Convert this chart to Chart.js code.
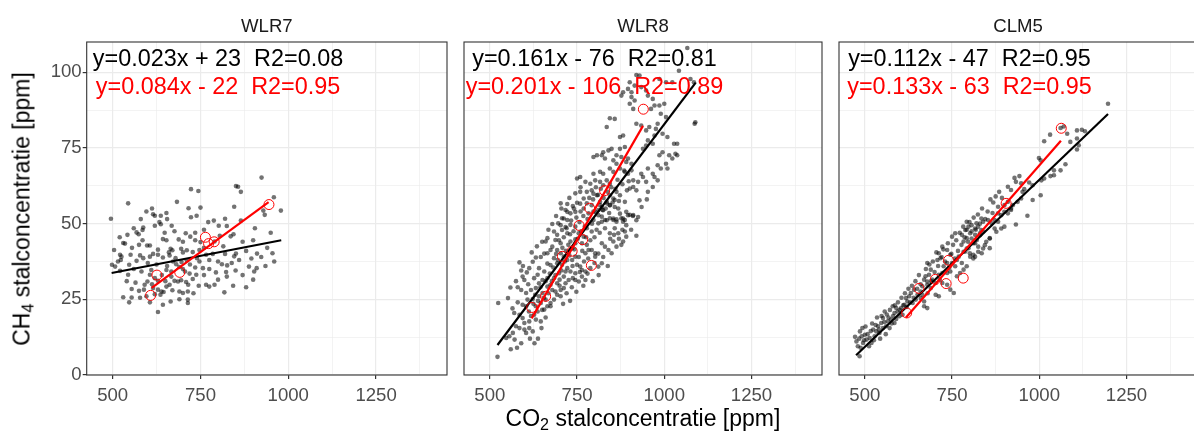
<!DOCTYPE html>
<html>
<head>
<meta charset="utf-8">
<script src="https://cdn.jsdelivr.net/npm/chart.js@4.4.0/dist/chart.umd.min.js"></script>
<style>
html, body { margin: 0; padding: 0; overflow: hidden; background: #fff; }
body { width: 1194px; height: 432px; position: relative; font-family: "Liberation Sans", Arial, sans-serif; }
.panel { position: absolute; top: 0; height: 432px; overflow: hidden; }
.panel canvas { display: block; }
#xtitle { position: absolute; left: 461.7px; width: 362.6px; top: 405px; text-align: center; font-size: 23px; color: #000; white-space: nowrap; }
#ytitle { position: absolute; left: 22px; top: 208.5px; transform: translate(-50%, -50%) rotate(-90deg); font-size: 23px; color: #000; white-space: nowrap; }
sub { font-size: 70%; vertical-align: -0.25em; line-height: 0; }
</style>
</head>
<body>
<div class="panel" style="left:0px;width:453px"><canvas id="c1" width="453" height="432"></canvas></div>
<div class="panel" style="left:458px;width:370px"><canvas id="c2" width="370" height="432"></canvas></div>
<div class="panel" style="left:833px;width:361px"><canvas id="c3" width="370" height="432"></canvas></div>
<div id="ytitle">CH<sub>4</sub> stalconcentratie [ppm]</div>
<div id="xtitle">CO<sub>2</sub> stalconcentratie [ppm]</div>
<script>
// axis setup
const xTicks = [500, 625, 750, 875, 1000, 1125, 1250, 1375];
const xMajor = [500, 750, 1000, 1250];
const yTicks = [0, 12.5, 25, 37.5, 50, 62.5, 75, 87.5, 100];
const yMajor = [0, 25, 50, 75, 100];

// facet labels and fit equations
const panelNames = ['WLR7', 'WLR8', 'CLM5'];
const blackEq = ['y=0.023x + 23  R2=0.08', 'y=0.161x - 76  R2=0.81', 'y=0.112x - 47  R2=0.95'];
const redEq = ['y=0.084x - 22  R2=0.95', 'y=0.201x - 106  R2=0.89', 'y=0.133x - 63  R2=0.95'];

// WLR7
const wlr7Points = [
  [924,65.2],[851,62.4],[857,62.2],[865,60.5],[723,61.4],[744,60.8],[544,56.7],[683,57.2],[959,58.7],[846,55.6],
  [716,55.1],[750,55.3],[979,54.3],[929,54.3],[933,52.9],[596,54.0],[615,53.1],[620,52.6],[653,53.5],[637,52.6],
  [495,51.6],[723,52.1],[739,52.6],[788,51.0],[820,51.6],[825,49.2],[865,51.0],[905,48.5],[802,49.3],[844,46.5],
  [836,45.8],[587,48.7],[585,47.9],[568,47.1],[574,46.5],[542,46.3],[620,49.3],[637,49.8],[655,51.5],[668,49.3],
  [643,44.9],[653,44.5],[688,44.8],[708,46.8],[721,45.7],[530,43.6],[535,43.4],[504,41.3],[575,43.0],[598,42.8],
  [606,42.8],[629,41.4],[665,41.7],[670,41.2],[695,41.7],[711,41.2],[728,40.6],[747,41.3],[750,43.9],[790,44.1],
  [846,39.2],[851,40.1],[911,40.1],[923,39.0],[955,40.2],[521,39.7],[525,39.1],[551,39.7],[498,36.4],[507,35.8],
  [523,38.0],[547,36.4],[568,37.7],[587,38.6],[606,39.1],[629,39.7],[643,38.8],[662,39.5],[679,38.6],[696,37.3],
  [711,37.9],[740,38.6],[747,37.5],[766,39.7],[775,38.0],[757,35.3],[775,35.0],[794,33.9],[811,36.6],[826,36.2],
  [839,37.0],[823,34.0],[825,32.5],[888,35.8],[903,34.2],[910,35.3],[681,36.6],[690,35.7],[653,34.7],[667,34.2],
  [706,34.2],[719,33.5],[738,33.1],[728,31.7],[766,29.8],[775,29.2],[790,29.8],[818,27.3],[676,31.1],[686,30.9],
  [695,31.3],[709,30.7],[715,29.8],[662,29.8],[653,29.2],[690,27.6],[700,27.1],[714,27.6],[714,24.9],[714,23.8],
  [665,24.3],[643,23.2],[629,20.8],[606,24.0],[554,28.4],[554,25.6],[547,24.0],[530,25.7],[575,27.8],[589,28.2],
  [615,28.7],[629,28.2],[639,27.6],[620,26.7],[636,26.5],[645,27.4],[591,29.8],[599,30.9],[620,32.0],[629,31.1],
  [544,33.1],[521,34.4],[606,33.1],[582,34.2],[667,32.5],[610,34.7],
  [560,48.5],[580,51.5],[612,55.0],[633,50.5],[648,47.0],[676,47.5],[700,44.0],[735,47.0],[760,48.0],[772,50.5],
  [805,46.0],[815,42.5],[870,44.0],[880,41.0],[895,38.5],[940,42.0],[960,37.5],[935,36.0],[900,31.5],[870,33.0],
  [850,34.5],[800,37.5],[785,40.0],[760,42.0],[735,44.5],[700,40.5],[672,37.5],[655,36.0],[640,33.0],[625,36.5],
  [600,37.0],[578,39.5],[560,35.0],[540,31.0],[515,37.5],[565,30.5],[578,25.5],[596,26.0],[612,30.0],[650,31.0],
  [670,28.0],[690,25.0],[730,27.0],[745,29.5],[760,33.0],[800,31.5],[843,29.5],[720,36.5],[700,35.0],[735,35.5],
  [660,40.5],[615,40.0],[585,44.5],[555,42.0],[520,45.5],[820,40.0],[860,38.0],[880,29.0],[950,47.0],[900,44.5]
];
const wlr7Circles = [[608,26.3],[626,33.0],[691,33.9],[764,45.5],[773,43.4],[789,44.0],[945,56.3]];
const wlr7Black = [[497,33.7],[980,44.5]];
const wlr7Red = [[611,28.8],[944,57.1]];

// WLR8
const wlr8Points = [
  [522,6.0],[524,23.8],[552,25.4],[559,28.9],[585,37.2],[590,34.5],[594,32.5],[606,33.9],[613,35.3],[599,31.4],
  [580,29.0],[590,28.1],[604,27.1],[618,28.1],[608,24.9],[623,25.1],[594,23.2],[604,22.7],[585,19.9],[594,18.8],
  [575,16.1],[585,15.5],[566,13.9],[556,12.8],[547,12.2],[571,11.7],[599,17.2],[613,17.7],[627,19.9],[637,21.0],
  [632,22.7],[646,23.8],[641,26.0],[651,27.1],[632,28.7],[641,30.3],[627,32.0],[637,33.1],[623,37.4],[632,38.8],
  [646,39.0],[656,40.1],[641,35.3],[656,34.2],[651,31.4],[665,32.0],[665,29.2],[674,29.8],[660,24.9],[674,23.8],
  [665,40.2],[674,41.3],[660,44.1],[665,45.2],[684,47.4],[693,46.3],[679,49.9],[696,50.1],[703,56.7],[722,56.5],
  [738,55.8],[750,56.9],[717,54.5],[731,53.4],[707,51.8],[722,51.2],[731,49.6],[745,49.0],[707,47.9],[722,46.8],
  [688,44.6],[703,43.5],[731,44.1],[745,44.8],[679,42.4],[693,41.3],[703,40.2],[712,39.1],[684,38.6],[693,36.9],
  [707,36.4],[722,35.3],[698,33.6],[712,32.5],[717,30.3],[726,31.4],[684,32.0],[693,30.3],[679,28.1],[688,27.6],
  [703,28.1],[712,28.7],[731,34.2],[745,33.6],[750,36.4],[759,35.8],[736,38.0],[745,39.1],[764,32.5],[755,30.9],
  [774,40.2],[783,41.3],[764,43.5],[778,43.0],[755,46.8],[769,45.7],[778,48.5],[792,47.4],[797,51.2],[811,50.1],
  [783,53.4],[797,54.0],[811,54.5],[821,52.3],[816,56.1],[830,51.2],[844,51.8],[854,51.2],[863,51.4],[877,51.8],
  [887,51.2],[901,52.9],[910,52.5],[830,48.5],[844,46.8],[856,46.3],[868,46.8],[887,47.4],[891,45.7],[854,44.1],
  [863,42.4],[877,43.0],[882,44.1],[821,43.5],[830,42.4],[840,41.3],[849,40.2],[802,39.1],[811,40.1],[811,35.8],
  [821,36.9],[802,40.2],[792,41.3],[788,35.3],[774,34.2],[774,31.4],[764,34.7],[745,31.4],[738,32.0],[778,56.7],
  [792,56.1],[835,56.7],[844,56.1],[858,57.8],[887,57.2],[632,18.3],[646,17.7],[613,15.5],[623,14.4],[599,15.0],
  [604,13.9],[656,21.6],[665,22.7],[674,22.7],[684,24.9],[693,26.5],[703,26.0],[717,34.2],[722,38.0],[736,41.9],
  [745,43.5],[665,36.8],[674,36.3],
  [1042,100.5],[1075,97.8],[1085,96.7],[986,97.8],[1005,96.7],[1023,96.7],[920,99.1],[929,98.9],[901,96.7],[915,95.6],
  [896,94.5],[906,93.4],[934,95.1],[948,94.0],[877,92.3],[882,93.4],[906,91.8],[915,90.7],[901,89.6],[911,87.9],
  [953,92.3],[967,91.2],[962,87.9],[972,89.0],[986,89.0],[1000,89.6],[990,86.3],[1005,85.2],[1089,83.5],[1087,83.0],
  [981,83.0],[976,81.3],[957,81.9],[972,79.1],[934,82.4],[948,80.8],[920,83.0],[844,84.8],[858,84.6],[835,81.9],
  [882,79.1],[873,78.6],[995,79.7],[1009,78.6],[1028,76.4],[1037,76.4],[953,77.5],[967,76.4],[939,74.7],[948,75.8],
  [986,72.6],[995,73.6],[1014,72.6],[1023,71.5],[1032,73.1],[1037,72.6],[981,69.3],[990,68.2],[1005,69.8],[1009,68.2],
  [953,68.2],[967,66.5],[934,66.5],[939,65.4],[972,65.4],[981,64.3],[911,64.3],[925,63.8],[901,61.6],[911,62.1],
  [948,63.8],[967,62.1],[953,60.5],[920,61.0],[929,57.7],[925,52.2],[891,53.9],[896,52.8],[873,53.3],[882,51.7],
  [825,73.6],[840,74.2],[821,72.6],[830,71.5],[849,74.7],[863,72.6],[807,72.6],[797,72.0],[854,70.9],[863,69.8],
  [873,74.7],[887,75.3],[877,72.0],[891,70.4],[896,71.5],[906,69.8],[873,68.2],[887,67.1],[844,68.2],[854,67.1],
  [816,67.1],[825,66.5],[797,66.5],[802,64.3],[896,66.5],[906,67.6],[750,64.9],[759,65.4],[774,63.8],[788,63.2],
  [816,63.8],[825,62.7],[835,64.3],[844,63.2],[778,60.5],[792,61.0],[797,59.9],[807,59.4],[759,60.5],[769,58.3],
  [844,59.4],[854,58.3],[863,60.5],[873,59.4],[835,57.2],[844,56.1],[816,57.2],[821,55.5],[858,55.5],[868,55.0],
  [759,56.6],[769,55.0],[741,55.0],[745,53.9],[722,53.9],[712,51.7],[703,49.5],[717,48.9],[821,50.6],[835,51.1],
  [854,51.7],[863,50.6],[882,50.6],[891,49.5],[911,52.8],[920,51.1],[802,53.9],[811,52.8],[825,54.4],[1066,108.0],
  [612,21.0],[618,19.5],[625,23.5],[630,26.5],[638,24.5],[645,29.0],[650,21.5],[655,25.5],[660,31.0],[668,27.0],
  [672,33.5],[678,31.0],[682,35.5],[688,33.0],[690,40.0],[695,38.0],[698,44.5],[700,31.5],[705,34.5],[708,42.0],
  [712,45.5],[715,37.5],[718,41.0],[720,48.5],[725,43.0],[728,39.5],[730,46.5],[733,51.0],[737,36.0],[740,47.5],
  [742,41.5],[748,52.0],[752,45.0],[755,39.0],[757,50.5],[760,54.0],[762,47.5],[765,41.0],[768,52.5],[770,37.5],
  [772,49.0],[776,45.5],[780,51.5],[782,38.5],[785,58.5],[788,44.5],[793,50.0],[796,58.0],[800,45.5],[804,62.0],
  [806,48.0],[810,59.5],[815,47.0],[818,61.5],[823,54.5],[826,58.5],[832,55.0],[838,60.5],[842,53.5],[848,62.0],
  [852,57.0],[860,61.5],[866,64.5],[870,57.5],[880,63.0],[885,67.5],[893,61.0],[898,64.0],[660,19.0],[648,15.5],
  [638,12.0],[628,10.5],[615,12.0],[590,10.5],[578,9.0],[560,8.5],[570,20.5],[580,24.0],[565,22.0],[575,31.0],
  [595,36.0],[610,30.0],[620,40.5],[635,42.5],[650,44.0],[668,48.0],[690,52.5],[705,55.0],[728,58.5],[745,60.0],
  [760,62.0],[700,29.5],[710,23.5],[720,27.0],[730,24.5],[735,29.0],[748,27.5],[758,34.0],[768,29.5],[780,33.5],
  [795,31.0],[800,37.0],[812,33.0],[825,39.0],[838,36.0],[845,45.0],[858,48.5],[870,45.0],[880,48.0],[905,48.0],
  [920,46.0],[935,55.5],[950,58.0]
];
const wlr8Circles = [[940,87.8],[829,60.9],[786,55.1],[756,49.4],[766,44.7],[736,40.9],[708,39.2],[791,36.2],[660,26.0],[620,22.3]];
const wlr8Black = [[522,9.9],[1090,96.6]];
const wlr8Red = [[620,18.7],[939,82.3]];

// CLM5
const clm5Points = [
  [472,12.6],[486,14.4],[476,11.1],[491,12.8],[500,13.3],[505,11.7],[514,12.2],[495,10.6],[519,10.6],[524,15.0],
  [533,14.4],[528,12.8],[542,13.9],[538,16.1],[547,17.2],[552,18.8],[557,21.0],[566,17.7],[575,18.3],[561,16.1],
  [571,15.5],[585,20.5],[594,21.0],[580,22.7],[590,22.1],[604,22.1],[613,23.2],[599,19.4],[608,19.9],[585,17.2],
  [618,25.4],[627,26.0],[622,24.3],[637,23.8],[632,27.1],[641,28.2],[646,24.9],[651,26.5],[660,25.4],[670,24.3],
  [670,22.7],[679,22.1],[660,27.6],[665,29.3],[679,29.8],[689,28.7],[674,32.6],[684,33.1],[679,37.0],[689,34.8],
  [693,31.5],[703,30.4],[703,26.5],[712,26.0],[712,33.1],[722,33.7],[708,38.0],[717,38.6],[726,35.9],[736,37.0],
  [722,30.4],[736,29.8],[736,33.7],[745,34.2],[745,28.2],[755,27.1],[750,37.0],[759,35.9],[764,38.0],[769,39.1],
  [764,32.6],[773,33.7],[736,41.3],[745,39.7],[722,42.4],[712,40.2],[783,34.8],[792,35.9],[778,37.0],[788,40.8],
  [797,41.9],[802,39.1],[811,39.7],[783,44.1],[792,45.2],[811,43.5],[821,44.6],[750,45.7],[759,46.8],[778,46.3],
  [788,47.9],[802,46.8],[816,46.3],[825,42.4],[835,40.2],[844,42.9],[858,41.9],[830,46.8],[839,47.4],[858,45.2],
  [679,30.9],
  [1197,89.6],[1061,81.6],[1070,82.1],[1031,79.4],[1014,77.2],[1080,79.7],[1108,80.8],[1122,81.0],[1131,80.5],[1108,78.1],
  [1089,77.0],[1108,74.5],[1113,75.9],[999,71.7],[1004,70.9],[1042,67.6],[1032,65.7],[1042,66.0],[1061,67.6],[1075,69.6],
  [1006,64.3],[1014,64.9],[929,65.1],[943,65.7],[933,63.8],[948,63.3],[910,62.2],[919,61.1],[952,60.5],[957,61.4],
  [971,63.6],[981,62.7],[1004,59.4],[981,57.8],[938,57.2],[948,58.3],[924,56.1],[919,55.0],[868,57.0],[882,55.6],
  [900,56.1],[910,57.2],[966,52.6],[933,49.7],[900,53.9],[910,53.4],[919,54.5],[882,53.4],[891,52.8],[872,51.2],
  [882,50.6],[891,48.4],[900,49.0],[853,51.2],[863,50.1],[834,51.7],[839,50.6],[820,50.1],[825,49.0],[806,49.5],
  [816,48.4],[858,45.1],[848,44.0],[834,47.9],[830,46.2],[872,48.4],[877,47.3],[792,50.6],[797,49.0],[806,45.1],
  [816,43.5],[839,41.8],[825,40.7],[792,41.8],[801,40.2],[783,40.7],[816,39.1],[811,38.5],
  [480,9.5],[484,12.0],[488,9.0],[493,15.5],[498,11.5],[502,16.0],[508,13.5],[512,9.5],[517,14.5],[521,17.0],
  [526,11.5],[531,16.5],[535,19.0],[540,15.0],[544,12.0],[548,19.5],[552,15.5],[556,17.5],[560,13.5],[563,20.0],
  [568,19.0],[572,21.5],[577,17.0],[581,19.5],[586,23.0],[590,18.5],[595,24.0],[600,21.5],[605,25.5],[610,23.0],
  [615,27.0],[620,22.5],[625,28.5],[630,24.0],[635,29.5],[640,25.5],[645,31.0],[650,28.5],[655,33.0],[660,30.0],
  [665,26.5],[670,31.5],[675,35.0],[680,27.0],[685,36.5],[690,31.0],[695,37.5],[700,34.0],[705,40.5],[710,36.0],
  [715,31.5],[720,39.0],[725,41.5],[730,37.5],[738,43.5],[742,35.5],[748,40.0],[753,43.0],[758,38.5],[762,44.5],
  [767,41.0],[772,47.0],[777,43.0],[782,49.0],[786,45.5],[792,48.0],[796,44.0],[800,50.5],[806,47.5],[812,52.0],
  [818,48.0],[824,53.0],[830,50.0],[836,55.0],[845,51.5],[852,54.0],[860,58.0],[866,53.5],[875,59.0],[885,60.5],
  [893,58.5],[485,6.2]
];
const clm5Circles = [[1063,81.5],[905,56.7],[740,37.9],[782,32.0],[733,30.2],[702,31.6],[655,28.6],[620,20.5]];
const clm5Black = [[475,6.5],[1197,86.2]];
const clm5Red = [[618,19.0],[1062,77.4]];

const FONT = '"Liberation Sans", Arial, sans-serif';
const toXY = arr => arr.map(p => ({ x: p[0], y: p[1] }));

// panel frame, strip label and equations
const facetPlugin = {
  id: 'facet',
  afterDatasetsDraw(chart, args, opts) {
    const ctx = chart.ctx, a = chart.chartArea;
    const xs = chart.scales.x, ys = chart.scales.y;
    ctx.save();
    ctx.textAlign = 'center';
    ctx.textBaseline = 'middle';
    ctx.font = '23.4px ' + FONT;
    ctx.fillStyle = '#000000';
    ctx.fillText(opts.eq1, xs.getPixelForValue(800), ys.getPixelForValue(104.3));
    ctx.fillStyle = '#ff0000';
    ctx.fillText(opts.eq2, xs.getPixelForValue(800), ys.getPixelForValue(94.8));
    ctx.strokeStyle = '#333333';
    ctx.lineWidth = 1.1;
    ctx.strokeRect(a.left, a.top, a.right - a.left, a.bottom - a.top);
    ctx.fillStyle = '#1a1a1a';
    ctx.font = '18.6px ' + FONT;
    ctx.textBaseline = 'alphabetic';
    ctx.fillText(opts.label, (a.left + a.right) / 2, a.top - 10.3);
    ctx.restore();
  }
};

function makePanel(canvasId, idx, pts, circles, blackLine, redLine, showY) {
  const tickFont = { family: FONT, size: 18.6 };
  return new Chart(document.getElementById(canvasId), {
    type: 'scatter',
    data: {
      datasets: [
        { data: toXY(redLine), showLine: true, borderColor: '#ff0000', borderWidth: 2.2, pointRadius: 0, order: 0 },
        { data: toXY(circles), pointRadius: 5, pointBorderWidth: 1, pointBorderColor: '#ff0000', pointBackgroundColor: 'rgba(0,0,0,0)', order: 1 },
        { data: toXY(blackLine), showLine: true, borderColor: '#000000', borderWidth: 2.2, pointRadius: 0, order: 2 },
        { data: toXY(pts), pointRadius: 2.3, pointBorderWidth: 0, pointBackgroundColor: 'rgba(0,0,0,0.55)', order: 3 }
      ]
    },
    options: {
      responsive: false,
      animation: false,
      devicePixelRatio: 1,
      layout: { padding: { left: showY ? 0 : 3.7, right: showY ? 4 : 3.7, top: 42, bottom: 0 } },
      plugins: {
        legend: { display: false },
        tooltip: { enabled: false },
        facet: { label: panelNames[idx], eq1: blackEq[idx], eq2: redEq[idx] }
      },
      scales: {
        x: {
          type: 'linear', min: 426, max: 1452,
          afterBuildTicks: s => { s.ticks = xTicks.map(v => ({ value: v })); },
          afterFit: s => { s.height = 57; },
          ticks: {
            autoSkip: false, maxRotation: 0, padding: 6, color: '#4d4d4d', font: tickFont,
            callback: v => xMajor.includes(v) ? String(v) : ''
          },
          grid: {
            color: '#ebebeb',
            lineWidth: c => xMajor.includes(c.tick && c.tick.value) ? 1.2 : 0.6,
            tickLength: 4,
            tickColor: c => xMajor.includes(c.tick && c.tick.value) ? '#333333' : 'rgba(0,0,0,0)'
          },
          border: { display: false }
        },
        y: {
          type: 'linear', min: 0, max: 110,
          afterBuildTicks: s => { s.ticks = yTicks.map(v => ({ value: v })); },
          afterFit: s => { s.width = showY ? 86.7 : 0; },
          ticks: {
            display: showY, autoSkip: false, padding: 1, color: '#4d4d4d', font: tickFont,
            callback: v => yMajor.includes(v) ? String(v) : ''
          },
          grid: {
            color: '#ebebeb',
            lineWidth: c => yMajor.includes(c.tick && c.tick.value) ? 1.2 : 0.6,
            drawTicks: showY,
            tickLength: 4,
            tickColor: c => yMajor.includes(c.tick && c.tick.value) ? '#333333' : 'rgba(0,0,0,0)'
          },
          border: { display: false }
        }
      }
    },
    plugins: [facetPlugin]
  });
}

makePanel('c1', 0, wlr7Points, wlr7Circles, wlr7Black, wlr7Red, true);
makePanel('c2', 1, wlr8Points, wlr8Circles, wlr8Black, wlr8Red, false);
makePanel('c3', 2, clm5Points, clm5Circles, clm5Black, clm5Red, false);
</script>
</body>
</html>
